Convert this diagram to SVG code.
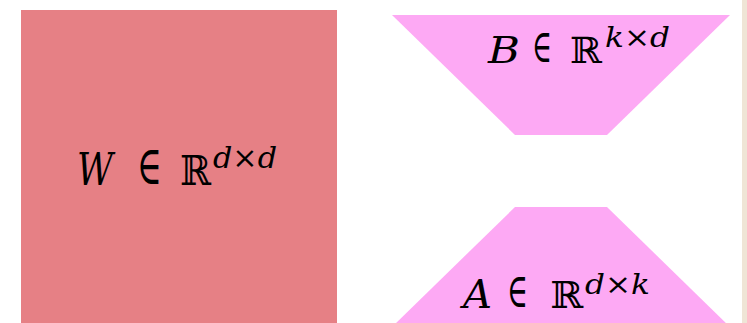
<svg xmlns="http://www.w3.org/2000/svg" width="747" height="323" viewBox="0 0 747 323">
<style>
.it{font-family:"DejaVu Serif","Liberation Serif",serif;font-style:italic;fill:#000}
.op{font-family:"DejaVu Serif","Liberation Serif",serif;fill:#000}
.up{font-style:normal}
</style>
<rect width="747" height="323" fill="#fff"/>
<rect x="742" y="0" width="5" height="323" fill="#efe5d6"/>
<g id="W">
<rect x="21" y="10" width="316" height="320" fill="#e68085"/>
<text class="it" x="77" y="185" font-size="45" textLength="36" lengthAdjust="spacingAndGlyphs">W</text>
<text class="op" x="137" y="184" font-size="54" textLength="25" lengthAdjust="spacingAndGlyphs">∈</text>
<text class="op" x="180" y="185" font-size="41" textLength="31" lengthAdjust="spacingAndGlyphs">ℝ</text>
<text class="it" x="213" y="168" font-size="29" textLength="64" lengthAdjust="spacingAndGlyphs">d<tspan class="up">×</tspan>d</text>
</g>
<g id="B">
<polygon points="392,15 730,15 607,135 515,135" fill="#fda9f4"/>
<text class="it" x="488" y="63" font-size="38" textLength="32" lengthAdjust="spacingAndGlyphs">B</text>
<text class="op" x="532" y="62" font-size="46" textLength="20" lengthAdjust="spacingAndGlyphs">∈</text>
<text class="op" x="570" y="63" font-size="36" textLength="32" lengthAdjust="spacingAndGlyphs">ℝ</text>
<text class="it" x="605" y="47" font-size="28" textLength="65" lengthAdjust="spacingAndGlyphs">k<tspan class="up">×</tspan>d</text>
</g>
<g id="A">
<polygon points="515,207 607,207 730,327 392,327" fill="#fda9f4"/>
<text class="it" x="463" y="308" font-size="40" textLength="29" lengthAdjust="spacingAndGlyphs">A</text>
<text class="op" x="507" y="307" font-size="48" textLength="21" lengthAdjust="spacingAndGlyphs">∈</text>
<text class="op" x="550" y="308" font-size="37" textLength="33" lengthAdjust="spacingAndGlyphs">ℝ</text>
<text class="it" x="585" y="294" font-size="27" textLength="65" lengthAdjust="spacingAndGlyphs">d<tspan class="up">×</tspan>k</text>
</g>
<g id="connectors"/>
</svg>
